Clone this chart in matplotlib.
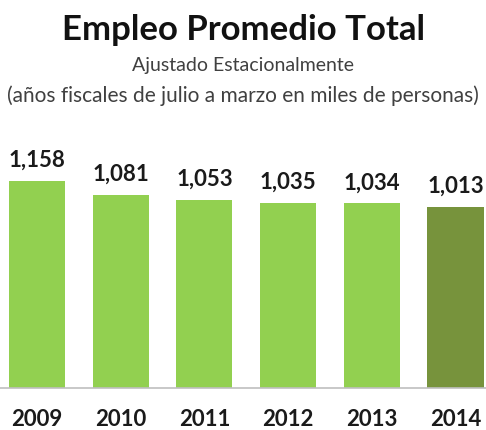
import matplotlib
matplotlib.use("Agg")
import matplotlib.pyplot as plt

years = ["2009", "2010", "2011", "2012", "2013", "2014"]
values = [1158, 1081, 1053, 1035, 1034, 1013]
colors = ["#92d050", "#92d050", "#92d050", "#92d050", "#92d050", "#77933c"]

plt.rcParams['font.family'] = ['Lato', 'DejaVu Sans']

fig = plt.figure(figsize=(4.86, 4.30), dpi=100)
ax = fig.add_axes([0, 1 - 388 / 430, 1, 388 / 430 - 0.0])

x = list(range(len(years)))
bars = ax.bar(x, values, width=0.67, color=colors)
for xi, v in zip(x, values):
    ax.annotate(f"{v:,}", (xi, v), xytext=(0, 10), textcoords="offset points",
                ha="center", va="baseline", fontsize=16,
                fontweight="bold", color="#1a1a1a")

ax.set_xlim(-37 / 83.7, (486 - 37) / 83.7)
ax.set_ylim(0, 388 / 0.1788)
ax.set_xticks(x)
ax.set_xticklabels(years, fontsize=16, fontweight="bold", color="#1a1a1a")
ax.tick_params(axis="x", length=0, pad=15)
ax.set_yticks([])
for s in ["top", "right", "left"]:
    ax.spines[s].set_visible(False)
ax.spines["bottom"].set_color("#bfbfbf")
ax.spines["bottom"].set_linewidth(1.2)

fig.text(0.5, 1 - 30 / 430, "Empleo Promedio Total", ha="center", va="center",
         fontsize=25, fontweight="bold", color="#111111")
fig.text(0.5, 1 - 66 / 430, "Ajustado Estacionalmente", ha="center", va="center",
         fontsize=14, color="#404040")
fig.text(0.5, 1 - 96 / 430, "(años fiscales de julio a marzo en miles de personas)",
         ha="center", va="center", fontsize=15, color="#404040")

fig.savefig("out.png", dpi=100)
